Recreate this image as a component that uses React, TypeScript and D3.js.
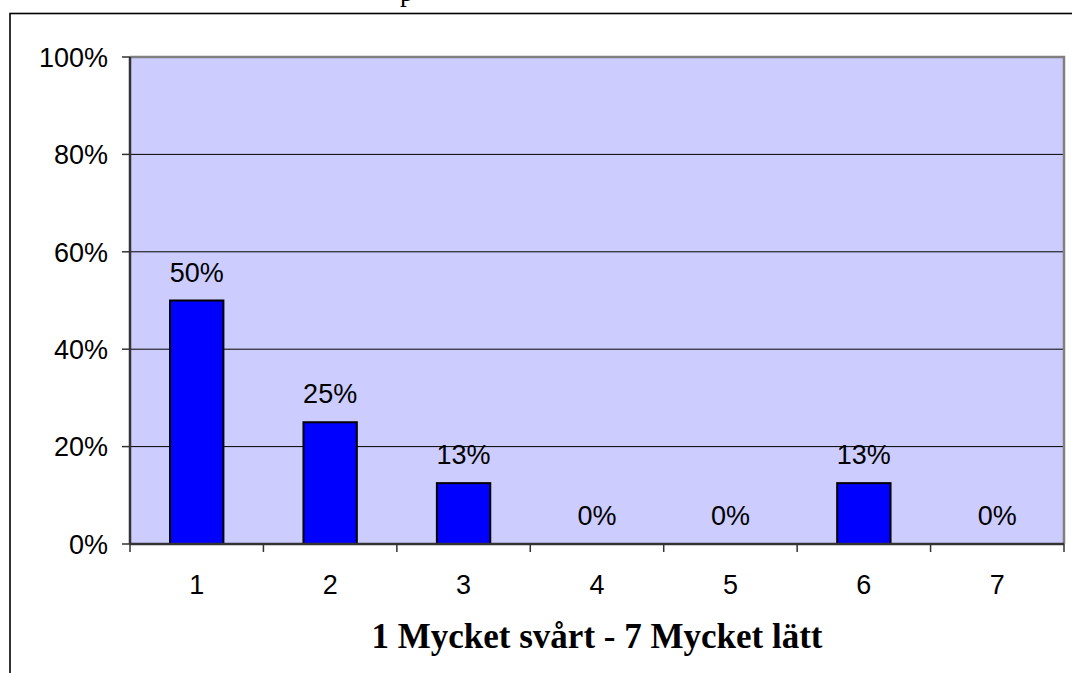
import React from "react";
import { scaleBand, scaleLinear } from "d3";

const categories = ["1", "2", "3", "4", "5", "6", "7"];
const shares = [0.5, 0.25, 0.125, 0, 0, 0.125, 0];
const yTicks = [0, 0.2, 0.4, 0.6, 0.8, 1];
const xTitle = "1 Mycket svårt - 7 Mycket lätt";

const width = 1072;
const height = 673;

const margin = { top: 57, right: 8, bottom: 129, left: 130 };
const innerWidth = width - margin.left - margin.right;
const innerHeight = height - margin.top - margin.bottom;

const sans = "'Liberation Sans', Arial, sans-serif";
const serif = "'Liberation Serif', 'Times New Roman', serif";

export default function App() {
  const xScale = scaleBand<string>()
    .domain(categories)
    .range([0, innerWidth])
    .paddingInner(0.6)
    .paddingOuter(0.3);

  const yScale = scaleLinear().domain([0, 1]).range([innerHeight, 0]);

  const step = xScale.step();
  const edges = categories.map((_, i) => i * step).concat(innerWidth);
  const pct = (v: number) => `${Math.round(v * 100)}%`;

  return (
    <div style={{ position: "fixed", left: 0, top: 0 }}>
      <svg width={width} height={height} style={{ display: "block", background: "#fff" }}>
        {/* cut-off title above the frame */}
        <text x={400} y={1} fontFamily={serif} fontSize={27} fill="#000">
          p
        </text>
        {/* outer frame */}
        <rect x={10} y={13.5} width={1200} height={800} fill="none" stroke="#000" strokeWidth={1.6} />

        <g transform={`translate(${margin.left},${margin.top})`}>
          <rect x={0} y={0} width={innerWidth} height={innerHeight} fill="#CCCCFF" />

          {yTicks.slice(1, -1).map((t) => (
            <line key={t} x1={0} x2={innerWidth} y1={yScale(t)} y2={yScale(t)} stroke="#000" strokeWidth={1} />
          ))}

          {/* plot border top/right */}
          <path
            d={`M0,${yScale(1)}H${innerWidth}V${innerHeight}`}
            fill="none"
            stroke="#808080"
            strokeWidth={2.5}
          />

          {categories.map((c, i) => (
            <rect
              key={c}
              x={xScale(c)}
              y={yScale(shares[i])}
              width={xScale.bandwidth()}
              height={innerHeight - yScale(shares[i])}
              fill="#0000FF"
              stroke="#000"
              strokeWidth={2}
            />
          ))}

          {categories.map((c, i) => (
            <text
              key={c}
              x={(xScale(c) ?? 0) + xScale.bandwidth() / 2}
              y={yScale(shares[i]) - 19}
              textAnchor="middle"
              fontFamily={sans}
              fontSize={27}
              fill="#000"
            >
              {pct(shares[i])}
            </text>
          ))}

          {/* axes */}
          <line x1={0} x2={0} y1={0} y2={innerHeight} stroke="#333" strokeWidth={2.5} />
          <line x1={0} x2={innerWidth} y1={innerHeight} y2={innerHeight} stroke="#333" strokeWidth={2.5} />

          {yTicks.map((t) => (
            <g key={t} transform={`translate(0,${yScale(t)})`}>
              <line x1={-8} x2={0} stroke="#333" strokeWidth={1.5} />
              <text x={-22} dy="0.36em" textAnchor="end" fontFamily={sans} fontSize={27} fill="#000">
                {pct(t)}
              </text>
            </g>
          ))}

          {edges.map((e, i) => (
            <line key={i} x1={e} x2={e} y1={innerHeight} y2={innerHeight + 8} stroke="#333" strokeWidth={1.5} />
          ))}

          {categories.map((c) => (
            <text
              key={c}
              x={(xScale(c) ?? 0) + xScale.bandwidth() / 2}
              y={innerHeight + 50}
              textAnchor="middle"
              fontFamily={sans}
              fontSize={27}
              fill="#000"
            >
              {c}
            </text>
          ))}

          <text
            x={innerWidth / 2}
            y={innerHeight + 104}
            textAnchor="middle"
            fontFamily={serif}
            fontWeight="bold"
            fontSize={35}
            fill="#000"
          >
            {xTitle}
          </text>
        </g>
      </svg>
    </div>
  );
}
